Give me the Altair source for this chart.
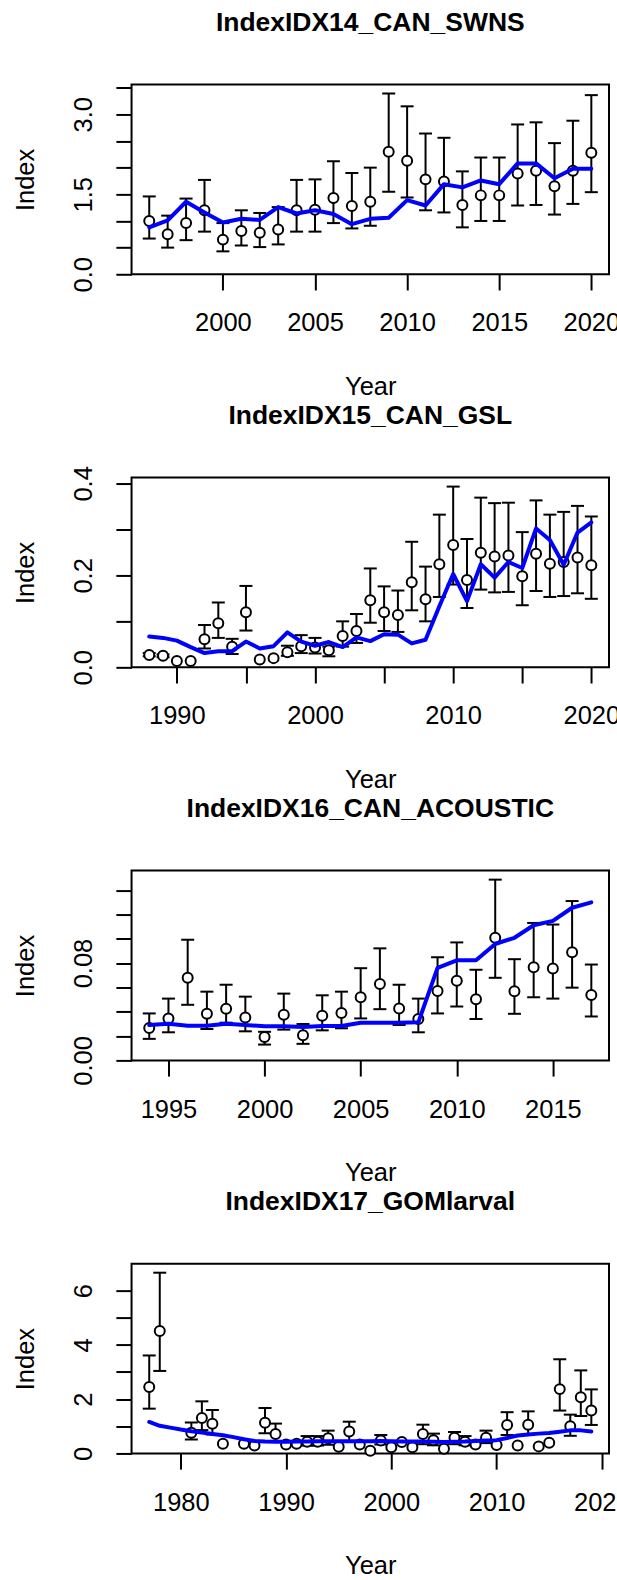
import altair as alt
import pandas as pd

FONT = "Liberation Sans"
W, H = 478, 190          # plot box of every panel
PITCH_GAP = 203.5        # vertical gap between consecutive plot boxes

# ---------------- IndexIDX14_CAN_SWNS ----------------
swns_years = list(range(1996, 2021))
swns_obs = [1.00, 0.75, 0.96, 1.20, 0.65, 0.81, 0.78, 0.84, 1.20, 1.21, 1.43, 1.28, 1.36,
            2.30, 2.13, 1.78, 1.74, 1.30, 1.48, 1.48, 1.89, 1.94, 1.65, 1.94, 2.28]
swns_lo = [0.67, 0.50, 0.64, 0.80, 0.43, 0.54, 0.51, 0.56, 0.80, 0.80, 0.96, 0.86, 0.91,
           1.55, 1.44, 1.20, 1.16, 0.88, 1.00, 1.00, 1.29, 1.30, 1.12, 1.32, 1.54]
swns_hi = [1.46, 1.10, 1.42, 1.77, 0.96, 1.20, 1.15, 1.26, 1.77, 1.78, 2.12, 1.90, 2.00,
           3.39, 3.15, 2.64, 2.56, 1.93, 2.19, 2.19, 2.81, 2.85, 2.46, 2.88, 3.36]
swns_pred = [0.88, 1.01, 1.36, 1.16, 0.97, 1.04, 1.02, 1.26, 1.14, 1.20, 1.13, 0.94, 1.04,
             1.06, 1.39, 1.29, 1.69, 1.63, 1.76, 1.69, 2.08, 2.08, 1.80, 1.98, 1.98]
swns_yticks = [0.0, 0.5, 1.0, 1.5, 2.0, 2.5, 3.0, 3.5]
swns_ylabels = [0.0, 1.5, 3.0]
swns_xticks = [2000, 2005, 2010, 2015, 2020]
swns_xlabels = [2000, 2005, 2010, 2015, 2020]

# ---------------- IndexIDX15_CAN_GSL ----------------
gsl_years = list(range(1988, 2021))
gsl_obs = [0.027, 0.025, 0.014, 0.014, 0.061, 0.096, 0.045, 0.120, 0.017, 0.020, 0.033,
           0.046, 0.043, 0.037, 0.068, 0.079, 0.146, 0.120, 0.114, 0.185, 0.148, 0.224,
           0.266, 0.190, 0.249, 0.241, 0.243, 0.198, 0.247, 0.225, 0.229, 0.239, 0.222]
gsl_lo = [0.024, 0.022, None, None, 0.041, 0.064, 0.029, 0.080, None, None, 0.025,
          0.031, 0.030, 0.024, 0.045, 0.053, 0.097, 0.079, 0.077, 0.124, 0.100, 0.153,
          0.180, 0.129, 0.169, 0.163, 0.164, 0.135, 0.166, 0.153, 0.155, 0.161, 0.149]
gsl_hi = [0.031, 0.028, None, None, 0.092, 0.141, 0.062, 0.177, None, None, 0.047,
          0.070, 0.064, 0.045, 0.100, 0.116, 0.215, 0.176, 0.167, 0.273, 0.219, 0.332,
          0.393, 0.279, 0.369, 0.357, 0.358, 0.294, 0.363, 0.332, 0.338, 0.351, 0.328]
gsl_pred = [0.067, 0.064, 0.058, 0.044, 0.031, 0.035, 0.035, 0.056, 0.041, 0.046, 0.076,
            0.056, 0.047, 0.055, 0.044, 0.065, 0.057, 0.072, 0.071, 0.052, 0.060, 0.133,
            0.203, 0.144, 0.224, 0.195, 0.229, 0.216, 0.302, 0.277, 0.223, 0.293, 0.315]
gsl_yticks = [0.0, 0.1, 0.2, 0.3, 0.4]
gsl_ylabels = [0.0, 0.2, 0.4]
gsl_xticks = [1990, 1995, 2000, 2005, 2010, 2015, 2020]
gsl_xlabels = [1990, 2000, 2010, 2020]

# ---------------- IndexIDX16_CAN_ACOUSTIC ----------------
ac_years = list(range(1994, 2018))
ac_obs = [0.0266, 0.0345, 0.0679, 0.0383, 0.0424, 0.0353, 0.0193, 0.0375, 0.0207, 0.0367,
          0.0389, 0.0519, 0.0628, 0.0427, 0.0340, 0.0571, 0.0655, 0.0503, 0.1008, 0.0568,
          0.0766, 0.0755, 0.0889, 0.0538]
ac_lo = [0.0177, 0.0231, 0.0457, 0.0258, 0.0310, 0.0239, 0.0130, 0.0253, 0.0136, 0.0247,
         0.0264, 0.0345, 0.0421, 0.0291, 0.0231, 0.0386, 0.0443, 0.0340, 0.0679, 0.0383,
         0.0519, 0.0508, 0.0598, 0.0361]
ac_hi = [0.0386, 0.0508, 0.0992, 0.0565, 0.0622, 0.0524, 0.0235, 0.0549, 0.0299, 0.0535,
         0.0565, 0.0758, 0.0921, 0.0622, 0.0508, 0.0848, 0.0970, 0.0745, 0.1486, 0.0832,
         0.1130, 0.1117, 0.1310, 0.0788]
ac_pred = [0.0291, 0.0302, 0.0285, 0.0285, 0.0302, 0.0291, 0.0280, 0.0280, 0.0274, 0.0283,
           0.0283, 0.0310, 0.0310, 0.0310, 0.0313, 0.0761, 0.0823, 0.0823, 0.0957, 0.1008,
           0.1111, 0.1147, 0.1255, 0.1299]
ac_yticks = [0.00, 0.02, 0.04, 0.06, 0.08, 0.10, 0.12, 0.14]
ac_ylabels = [0.00, 0.08]
ac_xticks = [1995, 2000, 2005, 2010, 2015]
ac_xlabels = [1995, 2000, 2005, 2010, 2015]

# ---------------- IndexIDX17_GOMlarval ----------------
gom_years = [1977, 1978, 1981, 1982, 1983, 1984, 1986, 1987, 1988, 1989, 1990, 1991, 1992,
             1993, 1994, 1995, 1996, 1997, 1998, 1999, 2000, 2001, 2002, 2003, 2004, 2005,
             2006, 2007, 2008, 2009, 2010, 2011, 2012, 2013, 2014, 2015, 2016, 2017, 2018,
             2019]
gom_obs = [2.45, 4.51, 0.76, 1.31, 1.09, 0.36, 0.36, 0.29, 1.13, 0.72, 0.33, 0.36, 0.43,
           0.43, 0.56, 0.25, 0.81, 0.33, 0.10, 0.48, 0.23, 0.42, 0.23, 0.72, 0.49, 0.17,
           0.58, 0.43, 0.33, 0.58, 0.31, 1.05, 0.29, 1.06, 0.26, 0.39, 2.37, 1.00, 2.07,
           1.58]
gom_lo = [1.65, 3.04, 0.51, 0.86, 0.70, None, None, None, 0.74, 0.46, None, None, 0.29,
          0.29, 0.32, None, 0.46, None, None, 0.33, None, None, None, 0.34, 0.30, None,
          0.34, 0.30, None, 0.38, None, 0.68, None, 0.68, None, None, 1.58, 0.65, 1.38,
          1.05]
gom_hi = [3.61, 6.66, 1.14, 1.92, 1.60, None, None, None, 1.67, 1.10, None, None, 0.64,
          0.64, 0.84, None, 1.17, None, None, 0.68, None, None, None, 1.06, 0.73, None,
          0.79, 0.64, None, 0.84, None, 1.52, None, 1.55, None, None, 3.47, 1.43, 3.06,
          2.36]
gom_pred_years = list(range(1977, 2020))
gom_pred = [1.16, 1.02, 0.95, 0.88, 0.82, 0.77, 0.72, 0.67, 0.60, 0.52,
            0.46, 0.44, 0.43, 0.43, 0.44, 0.44, 0.45, 0.45, 0.45, 0.45,
            0.45, 0.45, 0.46, 0.45, 0.44, 0.44, 0.44, 0.43, 0.42, 0.43,
            0.44, 0.46, 0.48, 0.49, 0.57, 0.66, 0.70, 0.73, 0.75, 0.80,
            0.85, 0.85, 0.81]
gom_yticks = [0, 1, 2, 3, 4, 5, 6]
gom_ylabels = [0, 2, 4, 6]
gom_xticks = [1980, 1990, 2000, 2010, 2020]
gom_xlabels = [1980, 1990, 2000, 2010, 2020]


def label_expr(shown, fmt):
    lst = ",".join(repr(v) for v in shown)
    return f"indexof([{lst}], datum.value) >= 0 ? format(datum.value, '{fmt}') : ''"


def make_panel(name, years, obs, lo, hi, pred_years, pred,
               yticks, ylabels, yfmt, xticks, xlabels):
    all_years = sorted(set(years) | set(pred_years))
    span = all_years[-1] - all_years[0]
    xdom = [all_years[0] - 0.04 * span, all_years[-1] + 0.04 * span]
    ymax = 1.05 * max(v for v in hi if v is not None)

    xaxis = alt.Axis(
        values=xticks, labelExpr=label_expr(xlabels, "d"), grid=False, domain=False,
        tickSize=15.7, tickWidth=2, tickColor="black",
        labelFont=FONT, labelFontSize=25.5, labelColor="black",
        labelPadding=41, labelBaseline="alphabetic", labelAlign="center",
        labelOverlap=False, labelFlush=False, labelBound=False,
        title="Year", titleFont=FONT, titleFontSize=25.5, titleFontWeight="normal",
        titleColor="black", titleX=W / 2, titleY=120, titleAlign="center",
        titleBaseline="alphabetic",
    )
    yaxis = alt.Axis(
        values=yticks, labelExpr=label_expr(ylabels, yfmt), grid=False, domain=False,
        tickSize=15.7, tickWidth=2, tickColor="black",
        labelFont=FONT, labelFontSize=25.5, labelColor="black", labelAngle=-90,
        labelPadding=24.3, labelBaseline="alphabetic", labelAlign="center",
        labelOverlap=False, labelFlush=False, labelBound=False,
        title="Index", titleFont=FONT, titleFontSize=25.5, titleFontWeight="normal",
        titleColor="black", titleAngle=-90, titleX=-98.3, titleY=H / 2,
        titleAlign="center", titleBaseline="alphabetic",
    )
    xs = alt.Scale(domain=xdom, nice=False, zero=False)
    ys = alt.Scale(domain=[0, ymax], nice=False, zero=False)

    def X():
        return alt.X("Year:Q", scale=xs, axis=xaxis)

    def Y(field):
        return alt.Y(field, scale=ys, axis=yaxis)

    obs_df = pd.DataFrame({"Year": years, "obs": obs, "lo": lo, "hi": hi})
    bar_df = obs_df.dropna(subset=["lo", "hi"])
    pred_df = pd.DataFrame({"Year": pred_years, "pred": pred})

    bars = alt.Chart(bar_df).mark_rule(color="black", strokeWidth=2).encode(
        x=X(), y=Y("lo:Q"), y2="hi:Q")
    caps = alt.Chart(bar_df).transform_fold(["lo", "hi"], as_=["end", "val"]).mark_tick(
        orient="horizontal", size=13, thickness=2, color="black", opacity=1).encode(
        x=X(), y=Y("val:Q"))
    points = alt.Chart(obs_df).mark_point(
        shape="circle", size=100, fill="white", stroke="black", strokeWidth=2,
        opacity=1, fillOpacity=1).encode(x=X(), y=Y("obs:Q"))
    line = alt.Chart(pred_df).mark_line(
        color="#0000ff", strokeWidth=4, strokeCap="round", strokeJoin="round").encode(
        x=X(), y=Y("pred:Q"))
    title = alt.Chart(pd.DataFrame({"t": [name]})).mark_text(
        font=FONT, fontSize=26.5, fontWeight="bold", color="black",
        align="center", baseline="alphabetic").encode(
        x=alt.value(W / 2), y=alt.value(-54), text="t:N")

    return alt.layer(bars, caps, points, line, title).properties(width=W, height=H)


p1 = make_panel("IndexIDX14_CAN_SWNS", swns_years, swns_obs, swns_lo, swns_hi,
                swns_years, swns_pred, swns_yticks, swns_ylabels, ".1f",
                swns_xticks, swns_xlabels)
p2 = make_panel("IndexIDX15_CAN_GSL", gsl_years, gsl_obs, gsl_lo, gsl_hi,
                gsl_years, gsl_pred, gsl_yticks, gsl_ylabels, ".1f",
                gsl_xticks, gsl_xlabels)
p3 = make_panel("IndexIDX16_CAN_ACOUSTIC", ac_years, ac_obs, ac_lo, ac_hi,
                ac_years, ac_pred, ac_yticks, ac_ylabels, ".2f",
                ac_xticks, ac_xlabels)
p4 = make_panel("IndexIDX17_GOMlarval", gom_years, gom_obs, gom_lo, gom_hi,
                gom_pred_years, gom_pred, gom_yticks, gom_ylabels, "d",
                gom_xticks, gom_xlabels)

# the right-most tick label runs past the page edge, so the right padding is
# pulled in to keep the drawing at the page width (the overhang is cut off)
chart = alt.vconcat(p1, p2, p3, p4, spacing=PITCH_GAP, bounds="flush").properties(
    padding={"left": 11.7, "top": 7.7, "right": -15, "bottom": 0},
    background="white",
).configure_view(stroke="black", strokeWidth=2)

chart.save("out.html", embed_options={"renderer": "svg", "actions": False})
